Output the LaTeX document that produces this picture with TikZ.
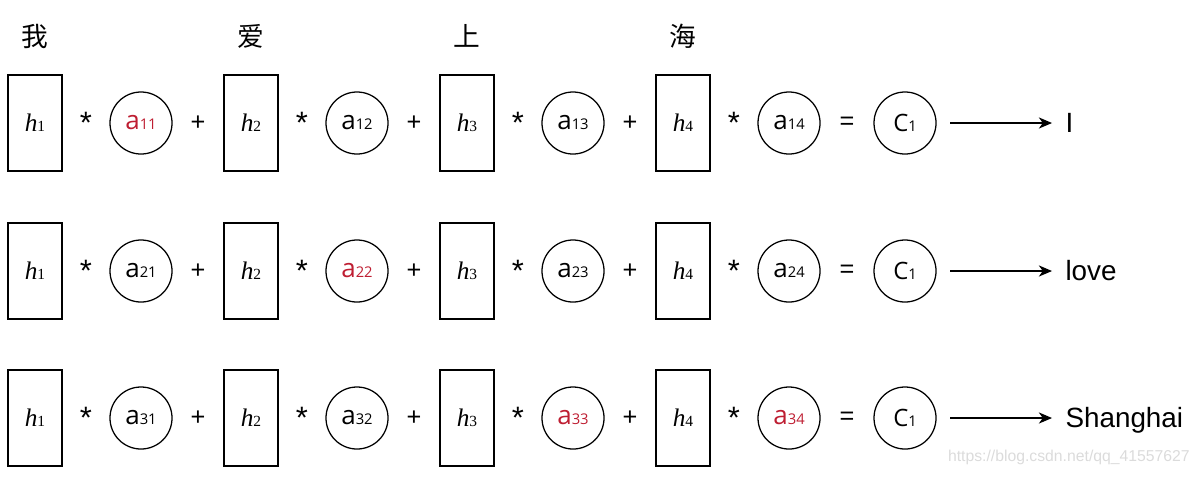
\documentclass[tikz,border=0pt]{standalone}
\usepackage{fontspec}
\setmainfont{Liberation Sans}
\newfontfamily\cjk{Noto Sans CJK SC}
\newfontfamily\hface{Liberation Serif}
\newfontfamily\aface{Open Sans}
\usetikzlibrary{arrows.meta}
\definecolor{attnred}{RGB}{190,30,50}

\newcommand{\hlab}[1]{{\hface\fontsize{18}{20}\selectfont\itshape h}{\hface\fontsize{11}{12}\selectfont #1}}
\newcommand{\alab}[1]{{\aface\fontsize{18.5}{20}\selectfont a}{\aface\fontsize{10.5}{12}\selectfont #1}}
\newcommand{\clab}{{\aface\fontsize{17}{20}\selectfont C}{\aface\fontsize{10.5}{12}\selectfont 1}}

\begin{document}
\begin{tikzpicture}[x=0.025cm,y=-0.025cm,
    hbox/.style={draw,line width=1pt,minimum width=1.35cm,minimum height=2.4cm,inner sep=0pt},
    abox/.style={draw,circle,line width=0.9pt,minimum size=1.55cm,inner sep=0pt},
    op/.style={font=\fontsize{18}{20}\selectfont,inner sep=0pt},
    star/.style={font=\fontsize{22}{24}\selectfont,inner sep=0pt},
    word/.style={font=\cjk\fontsize{19}{22}\selectfont,inner sep=0pt},
    outword/.style={anchor=west,inner xsep=0.33cm,inner ysep=0pt,text height=14pt,text depth=0pt,font=\fontsize{19.8}{22}\selectfont},
    arrow/.style={line width=0.85pt,-{Stealth[length=0.33cm,width=0.28cm,inset=0.1cm]},shorten <=0.34cm}]
  \useasboundingbox (0,0) rectangle (1200,476);
  % words on top
  \foreach \i/\ch in {1/我,2/爱,3/上,4/海}
    \node[word] (w\i) at ({35+216*(\i-1)},36) {\ch};
  % one row per output word
  \foreach \r/\y/\w/\ca/\cb/\cc/\cd in {1/123/I/attnred/black/black/black,
      2/271/love/black/attnred/black/black,
      3/418/Shanghai/black/black/attnred/attnred}{
    \foreach \i/\col in {1/\ca,2/\cb,3/\cc,4/\cd}{
      \node[hbox] (h\r\i) at ({35+216*(\i-1)},\y) {\hlab{\i}};
      \node[star] (s\r\i) at ({86+216*(\i-1)},\y) {*};
      \node[abox,text=\col] (a\r\i) at ({141+216*(\i-1)},\y) {\alab{\r\i}};
    }
    \foreach \i in {1,2,3}
      \node[op] (p\r\i) at ({198+216*(\i-1)},\y) {+};
    \node[op] (e\r) at (847,\y) {=};
    \node[abox] (c\r) at (905,\y) {\clab};
    \node[outword] (o\r) at (1052,\y) {\w};
    \draw[arrow] (c\r) -- (o\r);
  }
  \node[anchor=east,inner sep=0pt,text=black!14,font=\fontsize{11.2}{12}\selectfont] (mark) at (1190,457) {https://blog.csdn.net/qq\_41557627};
\end{tikzpicture}
\end{document}
